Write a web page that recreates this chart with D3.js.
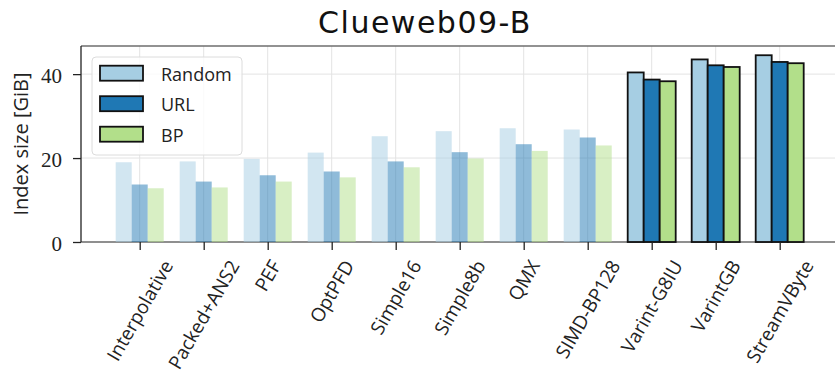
<!DOCTYPE html>
<html>
<head>
<meta charset="utf-8">
<script src="https://cdn.jsdelivr.net/npm/d3@7"></script>
<style>
  body { margin: 0; background: #fff; }
</style>
</head>
<body>
<script>
// data
var categories = ["Interpolative", "Packed+ANS2", "PEF", "OptPFD", "Simple16", "Simple8b",
  "QMX", "SIMD-BP128", "Varint-G8IU", "VarintGB", "StreamVByte"];
var seriesNames = ["Random", "URL", "BP"];
var randomSize = [19.0, 19.2, 19.8, 21.3, 25.2, 26.4, 27.1, 26.8, 40.4, 43.5, 44.5];
var urlSize = [13.7, 14.4, 15.9, 16.8, 19.2, 21.4, 23.3, 24.9, 38.7, 42.1, 42.9];
var bpSize = [12.8, 13.0, 14.4, 15.4, 17.8, 19.9, 21.7, 23.0, 38.3, 41.7, 42.6];
var yTicks = [0, 20, 40];
var highlighted = ["Varint-G8IU", "VarintGB", "StreamVByte"];

var colors = { Random: "#a6cee3", URL: "#1f78b4", BP: "#b2df8a" };
var values = { Random: randomSize, URL: urlSize, BP: bpSize };

var width = 835, height = 375;
var pLeft = 81, pRight = 835, pTop = 46, pBottom = 242;
var labelFont = "Open Sans";

var svg = d3.select("body").append("svg").attr("width", width).attr("height", height);

var x = d3.scalePoint().domain(categories).range([139.7, 779.7]);
var inner = d3.scaleBand().domain(seriesNames).range([-24, 24]);
var y = d3.scaleLinear().domain([0, 46.7]).range([pBottom, pTop]);

// grid
var grid = svg.append("g");
grid.selectAll(".vg").data(categories).enter().append("line")
  .attr("x1", d => x(d)).attr("x2", d => x(d))
  .attr("y1", pTop).attr("y2", pBottom)
  .attr("stroke", "#e3e3e3").attr("stroke-width", 1);
grid.selectAll(".hg").data(yTicks).enter().append("line")
  .attr("x1", pLeft).attr("x2", pRight)
  .attr("y1", d => y(d)).attr("y2", d => y(d))
  .attr("stroke", "#e3e3e3").attr("stroke-width", 1);

// frame
svg.append("line").attr("x1", pLeft).attr("x2", pRight).attr("y1", pTop).attr("y2", pTop)
  .attr("stroke", "#6e6e6e").attr("stroke-width", 1.3);
svg.append("line").attr("x1", pLeft).attr("x2", pRight).attr("y1", pBottom).attr("y2", pBottom)
  .attr("stroke", "#6e6e6e").attr("stroke-width", 1.3);

// bars
var rows = [];
categories.forEach(function (c, i) {
  seriesNames.forEach(function (s) {
    rows.push({ cat: c, series: s, value: values[s][i] });
  });
});
svg.append("g").selectAll("rect").data(rows).enter().append("rect")
  .attr("x", d => x(d.cat) + inner(d.series))
  .attr("y", d => y(d.value))
  .attr("width", inner.bandwidth())
  .attr("height", d => y(0) - y(d.value))
  .attr("fill", d => colors[d.series])
  .attr("fill-opacity", d => highlighted.includes(d.cat) ? 1 : 0.5)
  .attr("stroke", d => highlighted.includes(d.cat) ? "#111" : "none")
  .attr("stroke-width", 1.8);

// left spine + axes
var yAxis = svg.append("g").attr("transform", "translate(" + pLeft + ",0)")
  .call(d3.axisLeft(y).tickValues(yTicks).tickSize(8).tickPadding(11).tickFormat(d3.format("d")));
yAxis.select(".domain").attr("stroke", "#222").attr("stroke-width", 1.3)
  .attr("d", "M0," + pTop + "V" + pBottom);
yAxis.selectAll(".tick line").attr("stroke", "#222").attr("stroke-width", 1.3);
yAxis.selectAll(".tick text")
  .style("font-family", "'Liberation Serif', 'DejaVu Serif', serif")
  .style("font-size", "21px")
  .attr("fill", "#222").attr("dy", "0.4em");

var xAxis = svg.append("g").attr("transform", "translate(0," + pBottom + ")")
  .call(d3.axisBottom(x).tickSize(8).tickFormat(""));
xAxis.select(".domain").remove();
xAxis.selectAll(".tick line").attr("stroke", "#222").attr("stroke-width", 1.3);

// rotated category labels, bbox centred under tick
var labels = svg.append("g");
categories.forEach(function (c) {
  var t = labels.append("text").text(c)
    .attr("font-family", labelFont).attr("font-size", 19).attr("fill", "#222")
    .attr("text-anchor", "middle").attr("dominant-baseline", "central");
  var L = t.node().getComputedTextLength();
  var h = 19;
  var half = (L * Math.sin(Math.PI / 3) + h * Math.cos(Math.PI / 3)) / 2;
  t.attr("transform", "translate(" + x(c) + "," + (pBottom + 15 + half) + ") rotate(-60)");
});

// y label
svg.append("text").attr("transform", "translate(20,144) rotate(-90)")
  .attr("text-anchor", "middle").attr("dominant-baseline", "central")
  .attr("font-family", labelFont).attr("font-size", 20).attr("fill", "#222")
  .text("Index size [GiB]");

// title
svg.append("text").attr("x", 425).attr("y", 33).attr("text-anchor", "middle")
  .attr("font-family", "DejaVu Sans").attr("font-size", 30).attr("letter-spacing", 1.5)
  .attr("fill", "#111")
  .text("Clueweb09-B");

// legend
var legend = svg.append("g");
legend.append("rect").attr("x", 92).attr("y", 57).attr("width", 150).attr("height", 98)
  .attr("rx", 4).attr("fill", "#fff").attr("fill-opacity", 0.8)
  .attr("stroke", "#dcdcdc").attr("stroke-width", 1);
var item = legend.selectAll(".item").data(seriesNames).enter().append("g")
  .attr("transform", (d, i) => "translate(100," + (65.7 + i * 30.5) + ")");
item.append("rect").attr("width", 43).attr("height", 15)
  .attr("fill", d => colors[d]).attr("stroke", "#111").attr("stroke-width", 1.8);
item.append("text").attr("x", 61).attr("y", 8).attr("dominant-baseline", "central")
  .attr("font-family", labelFont).attr("font-size", 18).attr("fill", "#222")
  .text(d => d);
</script>
</body>
</html>
